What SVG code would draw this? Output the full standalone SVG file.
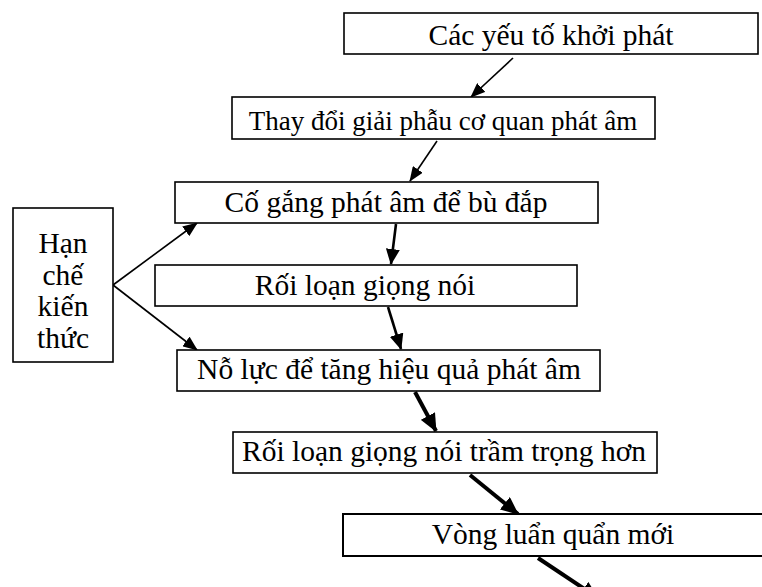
<svg xmlns="http://www.w3.org/2000/svg" width="762" height="587" viewBox="0 0 762 587">
  <style>
    .box { fill: #ffffff; stroke: #000000; stroke-width: 1.6; }
    .lbl { font-family: "Liberation Serif", "Times New Roman", serif; font-size: 29.5px; fill: #000000; text-anchor: middle; }
    .small { font-size: 27px; }
    .thin { stroke: #000000; stroke-width: 1.6; fill: none; }
    .mid { stroke: #000000; stroke-width: 2.6; fill: none; }
    .thick { stroke: #000000; stroke-width: 4; fill: none; }
  </style>
  <defs>
    <marker id="ah-thin" markerUnits="userSpaceOnUse" markerWidth="15" markerHeight="12" refX="14" refY="6" orient="auto">
      <path d="M0,0 L15,6 L0,12 Z" fill="#000000"/>
    </marker>
    <marker id="ah-mid" markerUnits="userSpaceOnUse" markerWidth="16" markerHeight="14" refX="15" refY="7" orient="auto">
      <path d="M0,0 L16,7 L0,14 Z" fill="#000000"/>
    </marker>
    <marker id="ah-thick" markerUnits="userSpaceOnUse" markerWidth="18" markerHeight="16" refX="17" refY="8" orient="auto">
      <path d="M0,0 L18,8 L0,16 Z" fill="#000000"/>
    </marker>
  </defs>
  <rect width="762" height="587" fill="#ffffff"/>

  <g id="connectors">
    <line class="thin" x1="513" y1="58" x2="471" y2="97" marker-end="url(#ah-thin)"/>
    <line class="thin" x1="437" y1="141" x2="410" y2="181" marker-end="url(#ah-thin)"/>
    <line class="mid" x1="396" y1="224" x2="391" y2="264" marker-end="url(#ah-mid)"/>
    <line class="mid" x1="388" y1="307" x2="401" y2="349" marker-end="url(#ah-mid)"/>
    <line class="thick" x1="415" y1="392" x2="436" y2="431" marker-end="url(#ah-thick)"/>
    <line class="thick" x1="470" y1="475" x2="518" y2="514" marker-end="url(#ah-thick)"/>
    <line class="thick" x1="538" y1="558" x2="598" y2="598" marker-end="url(#ah-thick)"/>
    <line class="thin" x1="113" y1="285" x2="197" y2="223" marker-end="url(#ah-thin)"/>
    <line class="thin" x1="113" y1="285" x2="197" y2="350" marker-end="url(#ah-thin)"/>
  </g>

  <g id="n1">
    <rect class="box" x="344" y="13" width="414" height="41"/>
    <text class="lbl" x="551" y="45">Các yếu tố khởi phát</text>
  </g>
  <g id="n2">
    <rect class="box" x="232" y="97" width="423" height="42"/>
    <text class="lbl small" x="443" y="130">Thay đổi giải phẫu cơ quan phát âm</text>
  </g>
  <g id="n3">
    <rect class="box" x="175" y="182" width="423" height="41"/>
    <text class="lbl" x="386" y="212">Cố gắng phát âm để bù đắp</text>
  </g>
  <g id="n4">
    <rect class="box" x="155" y="265" width="422" height="41"/>
    <text class="lbl" x="365" y="295">Rối loạn giọng nói</text>
  </g>
  <g id="n5">
    <rect class="box" x="177" y="350" width="423" height="41"/>
    <text class="lbl" x="389" y="379">Nỗ lực để tăng hiệu quả phát âm</text>
  </g>
  <g id="n6">
    <rect class="box" x="233" y="432" width="424" height="41"/>
    <text class="lbl" x="444" y="461">Rối loạn giọng nói trầm trọng hơn</text>
  </g>
  <g id="n7">
    <rect class="box" x="343" y="514" width="430" height="42" style="stroke-width:2"/>
    <text class="lbl" x="553" y="544">Vòng luẩn quẩn mới</text>
  </g>
  <g id="n8">
    <rect class="box" x="13" y="208" width="100" height="154"/>
    <text class="lbl" x="63" y="253">Hạn</text>
    <text class="lbl" x="63" y="285">chế</text>
    <text class="lbl" x="63" y="316">kiến</text>
    <text class="lbl" x="63" y="348">thức</text>
  </g>
</svg>
